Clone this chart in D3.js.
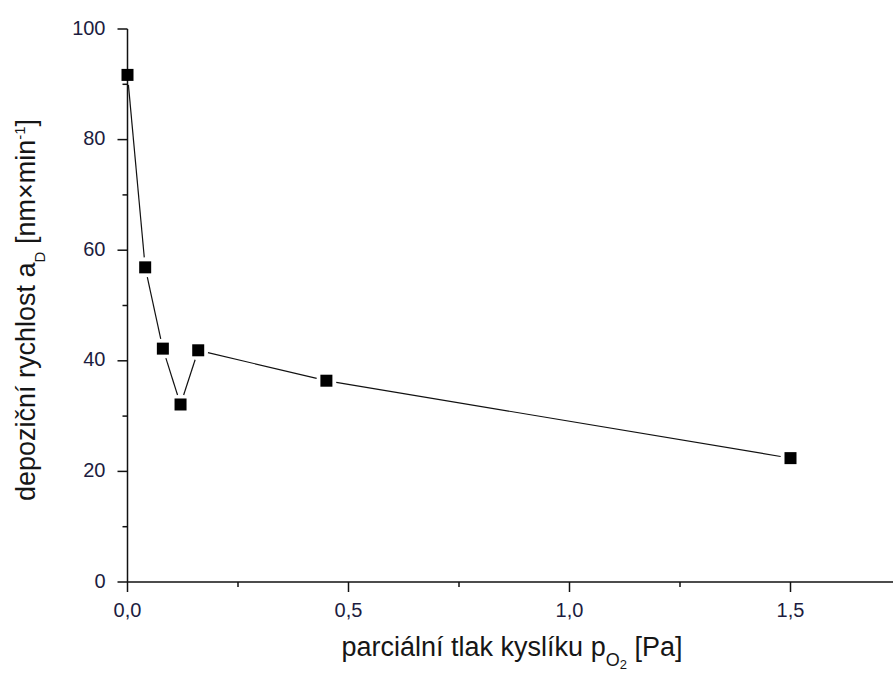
<!DOCTYPE html>
<html>
<head>
<meta charset="utf-8">
<script src="https://cdn.jsdelivr.net/npm/d3@7"></script>
<style>
	body { margin: 0; background: #fff; }
	svg { display: block; font-family: "Liberation Sans", Arial, sans-serif; }
	.tick-label { font-size: 20px; fill: #1c1c40; }
	.axis-title { font-size: 27px; fill: #161616; }
</style>
</head>
<body>
<svg id="chart" width="893" height="675"></svg>
<script>
// pressure p_O2 [Pa]
const pressure = [0, 0.04, 0.08, 0.12, 0.16, 0.45, 1.5];
// deposition rate a_D [nm/min]
const rate = [91.7, 56.9, 42.2, 32.1, 41.9, 36.4, 22.4];

const xMajor = [0, 0.5, 1.0, 1.5];
const xMinor = [0.25, 0.75, 1.25, 1.75];
const yMajor = [0, 20, 40, 60, 80, 100];
const yMinor = [10, 30, 50, 70, 90];

const width = 893;
const height = 675;

const svg = d3.select("#chart");

const x = d3.scaleLinear()
	.domain([0, 1.75])
	.range([127.5, 127.5 + 1.75 * 442]);

const y = d3.scaleLinear()
	.domain([0, 100])
	.range([582, 29]);

const fmtX = (d) => d3.format(".1f")(d).replace(".", ",");

// axes lines
const axisGroup = svg.append("g").attr("class", "axes")
	.attr("stroke", "#111")
	.attr("stroke-width", 1.5);

axisGroup.append("line")
	.attr("x1", x(0)).attr("x2", width)
	.attr("y1", y(0)).attr("y2", y(0));

axisGroup.append("line")
	.attr("x1", x(0)).attr("x2", x(0))
	.attr("y1", y(0)).attr("y2", y(100));

// x ticks
axisGroup.selectAll(".x-major")
	.data(xMajor)
	.join("line")
	.attr("class", "x-major")
	.attr("x1", (d) => x(d)).attr("x2", (d) => x(d))
	.attr("y1", y(0)).attr("y2", y(0) + 10);

axisGroup.selectAll(".x-minor")
	.data(xMinor)
	.join("line")
	.attr("class", "x-minor")
	.attr("x1", (d) => x(d)).attr("x2", (d) => x(d))
	.attr("y1", y(0)).attr("y2", y(0) + 5);

// y ticks
axisGroup.selectAll(".y-major")
	.data(yMajor)
	.join("line")
	.attr("class", "y-major")
	.attr("x1", x(0) - 10).attr("x2", x(0))
	.attr("y1", (d) => y(d)).attr("y2", (d) => y(d));

axisGroup.selectAll(".y-minor")
	.data(yMinor)
	.join("line")
	.attr("class", "y-minor")
	.attr("x1", x(0) - 5).attr("x2", x(0))
	.attr("y1", (d) => y(d)).attr("y2", (d) => y(d));

// tick labels
svg.append("g").selectAll("text")
	.data(xMajor)
	.join("text")
	.attr("class", "tick-label")
	.attr("x", (d) => x(d))
	.attr("y", y(0) + 35)
	.attr("text-anchor", "middle")
	.text(fmtX);

svg.append("g").selectAll("text")
	.data(yMajor)
	.join("text")
	.attr("class", "tick-label")
	.attr("x", x(0) - 22)
	.attr("y", (d) => y(d) + 5.5)
	.attr("text-anchor", "end")
	.text((d) => d);

// axis titles
const xTitle = svg.append("text")
	.attr("class", "axis-title")
	.attr("x", 512)
	.attr("y", 656)
	.attr("text-anchor", "middle");
xTitle.append("tspan").text("parciální tlak kyslíku p");
xTitle.append("tspan").attr("font-size", 18).attr("dy", 10).text("O");
xTitle.append("tspan").attr("font-size", 13).attr("dy", 3).text("2");
xTitle.append("tspan").attr("dy", -13).text(" [Pa]");

const yTitle = svg.append("text")
	.attr("class", "axis-title")
	.attr("transform", "translate(35, 310) rotate(-90)")
	.attr("text-anchor", "middle");
yTitle.append("tspan").text("depoziční rychlost a");
yTitle.append("tspan").attr("font-size", 15).attr("dy", 10).text("D");
yTitle.append("tspan").attr("dy", -10).text(" [nm×min");
yTitle.append("tspan").attr("font-size", 15).attr("dy", -10).text("-1");
yTitle.append("tspan").attr("dy", 10).text("]");

// connecting line segments, stopping short of the markers
const pts = pressure.map((p, i) => [x(p), y(rate[i])]);
const gap = 10;
const segs = d3.pairs(pts).map(([a, b]) => {
	const dx = b[0] - a[0];
	const dy = b[1] - a[1];
	const len = Math.hypot(dx, dy);
	const ux = dx / len;
	const uy = dy / len;
	return [a[0] + ux * gap, a[1] + uy * gap, b[0] - ux * gap, b[1] - uy * gap];
});

svg.append("g").attr("class", "line-group")
	.selectAll("line")
	.data(segs)
	.join("line")
	.attr("x1", (d) => d[0]).attr("y1", (d) => d[1])
	.attr("x2", (d) => d[2]).attr("y2", (d) => d[3])
	.attr("stroke", "#111")
	.attr("stroke-width", 1.2);

// markers
const ms = 12;
svg.append("g").attr("class", "markers")
	.selectAll("rect")
	.data(pressure)
	.join("rect")
	.attr("x", (d) => x(d) - ms / 2)
	.attr("y", (d, i) => y(rate[i]) - ms / 2)
	.attr("width", ms)
	.attr("height", ms)
	.attr("fill", "#000");
</script>
</body>
</html>
